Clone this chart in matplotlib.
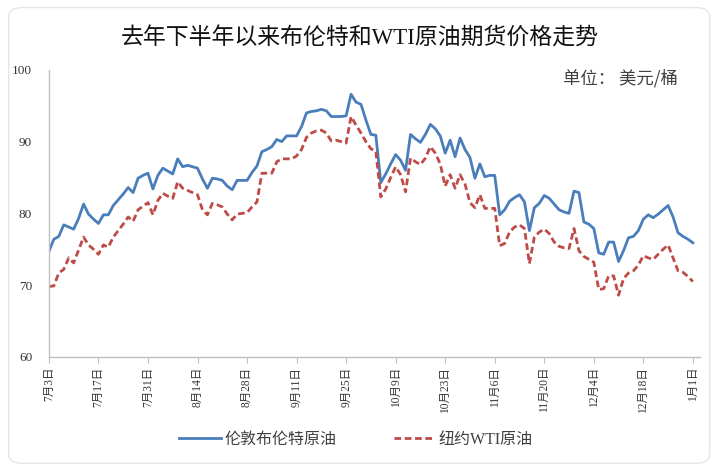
import matplotlib
matplotlib.use('Agg')
import matplotlib.pyplot as plt
from matplotlib.patches import FancyBboxPatch
import numpy as np

# daily closing prices, USD/barrel
brent = [74.7, 76.4, 76.8, 78.4, 78.1, 77.8, 79.3, 81.3, 79.9, 79.2,
         78.6, 79.8, 79.8, 81.1, 81.9, 82.7, 83.6, 82.9, 84.9, 85.3,
         85.6, 83.4, 85.3, 86.3, 85.9, 85.5, 87.6, 86.5, 86.7, 86.5,
         86.3, 84.8, 83.5, 84.9, 84.8, 84.6, 83.8, 83.3, 84.6, 84.6,
         84.6, 85.7, 86.6, 88.6, 88.9, 89.3, 90.3, 90.0, 90.8, 90.8,
         90.8, 92.1, 94.0, 94.2, 94.3, 94.5, 94.3, 93.5, 93.5, 93.5,
         93.6, 96.6, 95.5, 95.2, 93.0, 91.0, 90.9, 84.3, 85.5, 86.9,
         88.2, 87.4, 86.0, 91.0, 90.4, 89.9, 91.0, 92.4, 91.8, 90.8,
         88.4, 90.2, 87.9, 90.5, 88.9, 87.8, 84.9, 86.9, 85.1, 85.3,
         85.3, 79.8, 80.5, 81.7, 82.2, 82.6, 81.6, 77.6, 80.8, 81.4,
         82.5, 82.1, 81.3, 80.5, 80.2, 80.0, 83.1, 82.9, 78.8, 78.5,
         77.9, 74.5, 74.3, 76.0, 76.0, 73.3, 74.8, 76.6, 76.8, 77.6,
         79.2, 79.8, 79.4, 79.9, 80.5, 81.1, 79.5, 77.3, 76.8, 76.4,
         75.9]

wti = [69.8, 69.9, 71.7, 72.2, 73.8, 73.1, 74.9, 76.7, 75.6, 75.0,
       74.3, 75.6, 75.3, 76.7, 77.6, 78.5, 79.5, 78.9, 80.5, 81.0,
       81.5, 79.8, 81.8, 82.8, 82.4, 82.1, 84.4, 83.5, 83.2, 82.9,
       82.6, 80.5, 79.8, 81.4, 81.2, 80.9, 79.9, 79.1, 79.9, 80.0,
       80.1, 80.9, 81.6, 85.6, 85.6, 85.6, 87.2, 87.6, 87.6, 87.6,
       88.0, 88.9, 90.6, 91.2, 91.5, 91.6, 91.2, 90.1, 90.2, 90.0,
       89.8, 93.5, 92.3, 91.2, 90.0, 89.0, 88.7, 82.3, 83.4, 85.0,
       86.5, 85.4, 83.0, 87.7, 87.2, 86.8, 87.7, 89.3, 88.4, 86.9,
       83.8, 85.4, 83.5, 85.4, 84.1, 81.5, 80.8, 82.6, 80.7, 80.7,
       80.7, 75.5, 75.8, 77.4, 78.1, 78.4, 77.9, 73.0, 76.7, 77.4,
       77.8, 77.2, 76.0, 75.4, 75.2, 75.1, 77.9, 74.8, 74.0, 73.6,
       73.2, 69.4, 69.5, 71.3, 71.3, 68.6, 70.9, 71.7, 72.0, 72.8,
       74.1, 73.8, 73.6, 74.3, 75.0, 75.6, 73.8, 72.0, 71.8, 71.2,
       70.5]

tick_labels = ['7月3日', '7月17日', '7月31日', '8月14日', '8月28日', '9月11日',
               '9月25日', '10月9日', '10月23日', '11月6日', '11月20日',
               '12月4日', '12月18日', '1月1日']

serif_cjk = ['Liberation Serif', 'Noto Sans CJK SC']
cjk = ['Noto Sans CJK SC', 'DejaVu Sans']

fig = plt.figure(figsize=(7.19, 4.69), dpi=100)
fig.patch.set_facecolor('white')

# rounded frame round the whole chart
frame = FancyBboxPatch((0.012, 0.012), 0.975, 0.972,
                       boxstyle='round,pad=0,rounding_size=0.02',
                       transform=fig.transFigure, facecolor='none',
                       edgecolor='#e6e6e6', linewidth=1.0)
fig.patches.append(frame)

ax = fig.add_axes([0.068, 0.239, 0.906, 0.612])
x = np.arange(len(brent))
ax.plot(x, brent, color='#4a7ebb', lw=2.0, label='伦敦布伦特原油')
ax.plot(x, wti, color='#be4b48', lw=2.0, ls=(0, (2.4, 1.3)), label='纽约WTI原油')

ax.set_xlim(0, 131.5)
ax.set_ylim(60, 100)
ax.set_yticks([60, 70, 80, 90, 100])
ax.set_xticks(np.arange(0, 131, 10))
ax.set_xticklabels(tick_labels, rotation=90, family=serif_cjk, fontsize=8.3)
for lab in ax.get_yticklabels():
    lab.set_family(serif_cjk)
    lab.set_fontsize(9.5)

for s in ['top', 'right']:
    ax.spines[s].set_visible(False)
for s in ['left', 'bottom']:
    ax.spines[s].set_color('#bfbfbf')
    ax.spines[s].set_linewidth(1.0)
ax.tick_params(axis='y', length=0, pad=12, colors='#333333')
ax.tick_params(axis='x', length=4, color='#bfbfbf', pad=3, labelcolor='#333333')

fig.text(0.5, 0.918, '去年下半年以来布伦特和WTI原油期货价格走势',
         ha='center', va='center', fontsize=16.5, family=serif_cjk,
         weight='medium', color='#111111')
ax.text(0.965, 0.972, '单位： 美元/桶', transform=ax.transAxes, ha='right',
        va='center', fontsize=12.5, family=cjk, color='#404040')

leg = fig.legend(loc='center', bbox_to_anchor=(0.495, 0.062), ncol=2,
                 frameon=False, prop={'family': serif_cjk, 'size': 11.5},
                 handlelength=2.6, handletextpad=0.2, columnspacing=3.6)
for t in leg.get_texts():
    t.set_color('#404040')

fig.savefig('out.png', dpi=100)
